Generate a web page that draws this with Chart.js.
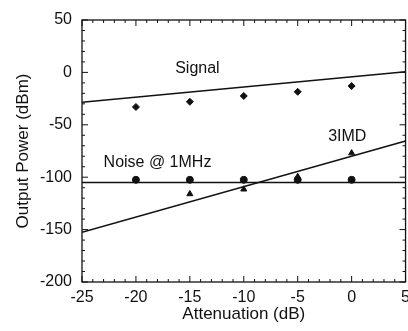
<!DOCTYPE html>
<html>
<head>
<meta charset="utf-8">
<script src="https://cdn.jsdelivr.net/npm/chart.js@4.4.1/dist/chart.umd.min.js"></script>
<style>
  html, body { margin: 0; padding: 0; background: #fff; overflow: hidden; }
  #wrap { width: 416px; height: 331px; }
</style>
</head>
<body>
<div id="wrap"><canvas id="chart" width="416" height="331"></canvas></div>
<script>
// valores
const attenuation = [-20, -15, -10, -5, 0];
const signalPts = [-33, -28, -22.5, -18.5, -13];
const noisePts = [-102.5, -102.5, -102.5, -102.5, -102.5];
const imdX = [-15, -10, -5, -5, 0];
const imdPts = [-116, -111.5, -99.5, -101, -77];

// rectas de ajuste (extremos en -25 y 5 dB)
const fitX = [-25, 5];
const signalFit = [-28.5, 0.7];
const noiseFit = [-105, -105];
const imdFit = [-152.5, -65.5];

const xTicks = [-25, -20, -15, -10, -5, 0, 5];
const yTicks = [-200, -150, -100, -50, 0, 50];

// etiquetas dentro del grafico
const labels = [
    { text: 'Signal', x: -14.3, y: 4 },
    { text: '3IMD', x: -0.4, y: -61.5 },
    { text: 'Noise @ 1MHz', x: -18, y: -86.5 }
];

function toXY(xs, ys) {
    return xs.map((x, i) => ({ x: x, y: ys[i] }));
}

const FONT = "'Liberation Sans', Arial, Helvetica, sans-serif";

// marco y marcas hacia dentro en los cuatro lados
const framePlugin = {
    id: 'frame',
    afterDraw(chart) {
        const ctx = chart.ctx;
        const a = chart.chartArea;
        const xs = chart.scales.x, ys = chart.scales.y;
        ctx.save();
        ctx.strokeStyle = '#111';
        ctx.lineWidth = 1.3;
        ctx.strokeRect(a.left, a.top, a.right - a.left, a.bottom - a.top);
        ctx.lineWidth = 1;
        ctx.beginPath();
        for (let v = xs.min; v <= xs.max; v += 1) {
            const px = xs.getPixelForValue(v);
            const len = (v % 5 === 0) ? 6 : 3;
            ctx.moveTo(px, a.bottom); ctx.lineTo(px, a.bottom - len);
            ctx.moveTo(px, a.top); ctx.lineTo(px, a.top + len);
        }
        for (let v = ys.min; v <= ys.max; v += 10) {
            const py = ys.getPixelForValue(v);
            const len = (v % 50 === 0) ? 6 : 3;
            ctx.moveTo(a.left, py); ctx.lineTo(a.left + len, py);
            ctx.moveTo(a.right, py); ctx.lineTo(a.right - len, py);
        }
        ctx.stroke();

        ctx.fillStyle = '#111';
        ctx.font = '16px ' + FONT;
        ctx.textAlign = 'center';
        ctx.textBaseline = 'middle';
        labels.forEach(l => {
            ctx.fillText(l.text, xs.getPixelForValue(l.x), ys.getPixelForValue(l.y));
        });
        ctx.restore();
    }
};

const lineStyle = {
    showLine: true,
    borderColor: '#111',
    borderWidth: 1.5,
    pointRadius: 0,
    fill: false
};

new Chart(document.getElementById('chart'), {
    type: 'scatter',
    data: {
        datasets: [
            Object.assign({ label: 'Signal fit', data: toXY(fitX, signalFit) }, lineStyle),
            Object.assign({ label: 'Noise fit', data: toXY(fitX, noiseFit) }, lineStyle),
            Object.assign({ label: '3IMD fit', data: toXY(fitX, imdFit) }, lineStyle),
            {
                label: 'Signal',
                data: toXY(attenuation, signalPts),
                pointStyle: 'rectRot',
                pointRadius: 3.5,
                backgroundColor: '#111',
                borderColor: '#111'
            },
            {
                label: 'Noise @ 1MHz',
                data: toXY(attenuation, noisePts),
                pointStyle: 'circle',
                pointRadius: 3.5,
                backgroundColor: '#111',
                borderColor: '#111'
            },
            {
                label: '3IMD',
                data: toXY(imdX, imdPts),
                pointStyle: 'triangle',
                pointRadius: 3.5,
                backgroundColor: '#111',
                borderColor: '#111'
            }
        ]
    },
    options: {
        responsive: false,
        animation: false,
        layout: { padding: { top: 20, right: 9, left: 0, bottom: 0 } },
        plugins: {
            legend: { display: false },
            tooltip: { enabled: false }
        },
        scales: {
            x: {
                type: 'linear',
                min: -25,
                max: 5,
                afterBuildTicks: s => { s.ticks = xTicks.map(v => ({ value: v })); },
                afterFit: s => { s.height = 49; },
                grid: { display: false, drawTicks: false },
                border: { display: false },
                ticks: { color: '#111', padding: 6, font: { family: FONT, size: 16 } },
                title: {
                    display: true,
                    text: 'Attenuation (dB)',
                    color: '#111',
                    padding: { top: 0, bottom: 6 },
                    font: { family: FONT, size: 17 }
                }
            },
            y: {
                type: 'linear',
                min: -200,
                max: 50,
                afterBuildTicks: s => { s.ticks = yTicks.map(v => ({ value: v })); },
                afterFit: s => { s.width = 82; },
                grid: { display: false, drawTicks: false },
                border: { display: false },
                ticks: { color: '#111', padding: 10, font: { family: FONT, size: 16 } },
                title: {
                    display: true,
                    text: 'Output Power (dBm)',
                    color: '#111',
                    padding: { top: 13, bottom: 0 },
                    font: { family: FONT, size: 17 }
                }
            }
        }
    },
    plugins: [framePlugin]
});
</script>
</body>
</html>
